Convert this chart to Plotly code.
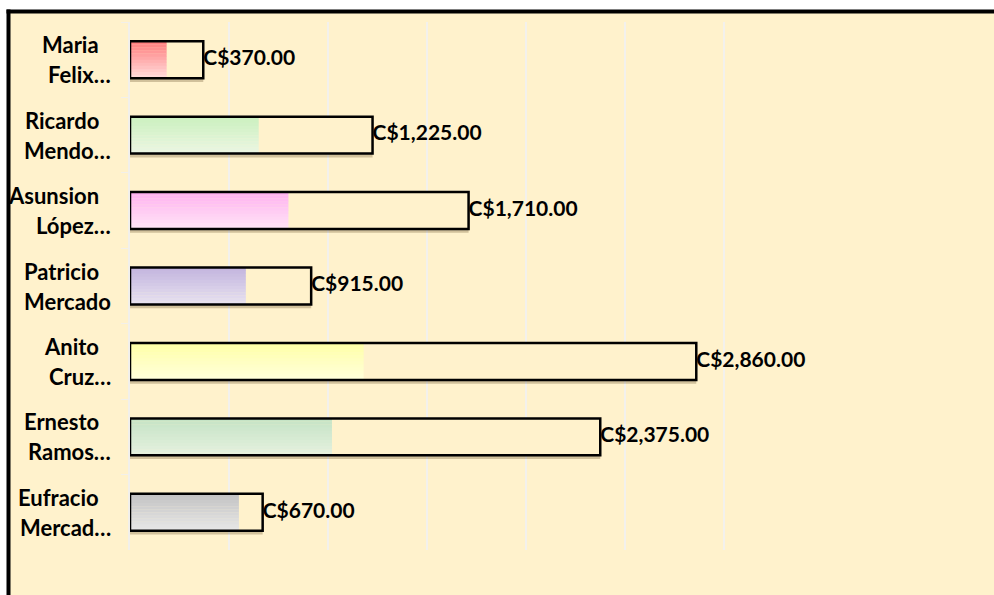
import plotly.graph_objects as go

# data
first_lines = ["Maria", "Ricardo", "Asunsion", "Patricio", "Anito", "Ernesto", "Eufracio"]
second_lines = ["Felix…", "Mendo…", "López…", "Mercado", "Cruz…", "Ramos…", "Mercad…"]
totals = [370, 1225, 1710, 915, 2860, 2375, 670]
# extent of the coloured gradient part of each bar
fill_extent = [185, 650, 800, 585, 1180, 1020, 550]

categories = [a + " " + b for a, b in zip(first_lines, second_lines)]

top_colors = ["#FF8080", "#CCF0C0", "#FFB3F0", "#C4B6DE", "#FFFFA8", "#C6E4C6", "#C4C4C4"]
bottom_colors = ["#FFD9D9", "#EAF6E2", "#FFE3F6", "#E6E0F0", "#FFFFDA", "#E4F0DE", "#E6E6E6"]

BG = "#FFF2CC"
BAR_W = 0.49
N_STRIPS = 12


def hex_to_rgb(h):
    h = h.lstrip("#")
    return [int(h[i:i + 2], 16) for i in (0, 2, 4)]


def mix(c1, c2, t):
    a, b = hex_to_rgb(c1), hex_to_rgb(c2)
    return "rgb({},{},{})".format(*[round(a[i] + (b[i] - a[i]) * t) for i in range(3)])


fig = go.Figure()

# soft drop shadow
fig.add_trace(go.Bar(
    y=categories, x=totals, orientation="h",
    width=BAR_W, offset=-BAR_W / 2 + 0.05,
    marker=dict(color="rgba(90,70,30,0.28)", line=dict(width=0)),
    hoverinfo="skip", showlegend=False
))
# background fill of the whole bar (hides shadow behind it)
fig.add_trace(go.Bar(
    y=categories, x=totals, orientation="h",
    width=BAR_W, offset=-BAR_W / 2,
    marker=dict(color=BG, line=dict(width=0)),
    hoverinfo="skip", showlegend=False
))

# gradient part, drawn as thin horizontal strips
step = BAR_W / N_STRIPS
for k in range(N_STRIPS):
    t = k / (N_STRIPS - 1)
    fig.add_trace(go.Bar(
        y=categories, x=fill_extent, orientation="h",
        width=step * 1.1, offset=-BAR_W / 2 + k * step,
        marker=dict(color=[mix(a, b, t) for a, b in zip(top_colors, bottom_colors)],
                    line=dict(width=0)),
        hoverinfo="skip", showlegend=False
    ))

# outline of full bar
fig.add_trace(go.Bar(
    y=categories, x=totals, orientation="h",
    width=BAR_W, offset=-BAR_W / 2,
    marker=dict(color="rgba(0,0,0,0)", line=dict(color="black", width=2.5)),
    showlegend=False
))

# value labels
fig.add_trace(go.Scatter(
    y=categories, x=totals, mode="text",
    text=["C${:,.2f}".format(v) for v in totals],
    textposition="middle right",
    textfont=dict(family="Lato", size=21, color="black", weight="bold"),
    hoverinfo="skip", showlegend=False
))

# two-line category labels
for cat, l1, l2 in zip(categories, first_lines, second_lines):
    for txt, dy, dx in ((l1, 15, -29), (l2, -15, -17)):
        fig.add_annotation(
            x=0, xref="paper", y=cat, yref="y", text="<b>" + txt + "</b>",
            showarrow=False, xanchor="right", yanchor="middle",
            xshift=dx, yshift=dy,
            font=dict(family="Lato", size=22, color="black")
        )

# chart area: filled panel with thick black border on left and top
L, R, T, B = 130, 171, 22, 45
pw, ph = 994 - L - R, 595 - T - B
x_left = (8.5 - L) / pw
y_top = 1 + (T - 11.5) / ph
x_far = (1150 - L) / pw
y_far = -(B + 120) / ph
fig.add_shape(type="rect", xref="paper", yref="paper", layer="below",
              x0=x_left, x1=x_far, y0=y_far, y1=y_top,
              fillcolor=BG, line=dict(width=0))
fig.add_shape(type="line", xref="paper", yref="paper", layer="below",
              x0=x_left, x1=x_left, y0=y_far, y1=y_top + 2 / ph,
              line=dict(color="black", width=4))
fig.add_shape(type="line", xref="paper", yref="paper", layer="below",
              x0=x_left - 2 / pw, x1=x_far, y0=y_top, y1=y_top,
              line=dict(color="black", width=4))

fig.update_layout(
    width=994, height=595,
    margin=dict(l=L, r=R, t=T, b=B),
    paper_bgcolor="white",
    plot_bgcolor="rgba(0,0,0,0)",
    barmode="overlay",
    bargap=0.5,
    xaxis=dict(range=[0, 3500], dtick=500, tick0=0, showgrid=True, gridcolor="#F3F1EC",
               gridwidth=1.5, zeroline=False, showticklabels=False, fixedrange=True),
    yaxis=dict(categoryorder="array", categoryarray=categories, autorange="reversed",
               showticklabels=False, showline=True, linecolor="#F2F0EA", linewidth=2,
               ticks="outside", tickson="boundaries", ticklen=7, tickcolor="#F2F0EA",
               showgrid=False, fixedrange=True),
)

fig.write_html("out.html", config={"displayModeBar": False},
               post_script="document.body.style.margin='0';document.body.style.overflow='hidden';")
